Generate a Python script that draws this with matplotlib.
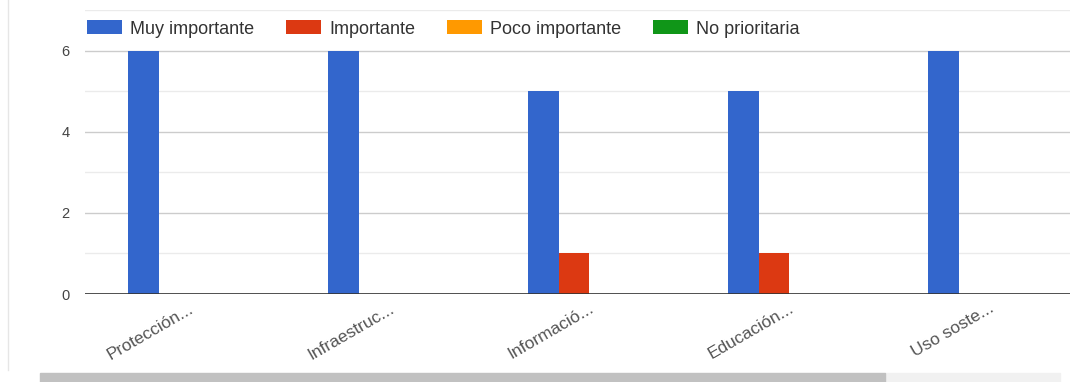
import numpy as np
import matplotlib
matplotlib.use("Agg")
import matplotlib.pyplot as plt
from matplotlib.patches import Rectangle

plt.rcParams['font.family'] = ['Liberation Sans', 'DejaVu Sans']

# data
categories = ['Protección...', 'Infraestruc...', 'Informació...', 'Educación...', 'Uso soste...']
series_names = ['Muy importante', 'Importante', 'Poco importante', 'No prioritaria']
muy_importante = [6, 6, 5, 5, 6]
importante = [0, 0, 1, 1, 0]
poco_importante = [0, 0, 0, 0, 0]
no_prioritaria = [0, 0, 0, 0, 0]
colors = ['#3366cc', '#dc3912', '#ff9900', '#109618']

fig = plt.figure(figsize=(10.70, 3.82), dpi=100)
ax = fig.add_axes([85 / 1070, 88 / 382, 1 - 85 / 1070, (294 - 10) / 382])

x = np.arange(len(categories))
w = 0.1525
all_series = [muy_importante, importante, poco_importante, no_prioritaria]
for i, (vals, name, c) in enumerate(zip(all_series, series_names, colors)):
    ax.bar(x + (i - 1.5) * w, vals, width=w, color=c, label=name, zorder=3)

ax.set_xlim(-0.52, 4.405)
ax.set_ylim(0, 7)
ax.set_yticks([0, 2, 4, 6])
ax.set_yticks([1, 3, 5, 7], minor=True)
ax.grid(axis='y', which='major', color='#cccccc', linewidth=1, zorder=0)
ax.grid(axis='y', which='minor', color='#ebebeb', linewidth=1, zorder=0)
ax.axhline(0, color='#333333', linewidth=1.2, zorder=4)
for s in ax.spines.values():
    s.set_visible(False)

ax.set_xticks(x)
ax.set_xticklabels(categories, rotation=30, ha='right', rotation_mode='anchor',
                   fontsize=12.5, color='#555555')
ax.tick_params(axis='x', length=0, pad=5)
ax.tick_params(axis='y', which='both', length=0, pad=11, labelsize=10.5, labelcolor='#444444')

fig.legend(loc='center left', bbox_to_anchor=(71 / 1070, 1 - 29 / 382), ncol=4,
           frameon=False, fontsize=13, handlelength=1.94, handleheight=0.78,
           handletextpad=0.45, columnspacing=1.75, labelcolor='#333333')

# frame decorations: left border and scrollbar
fig.add_artist(plt.Line2D([8 / 1070, 8 / 1070], [12 / 382, 1], color='#e6e6e6', linewidth=1))
fig.patches.append(Rectangle((885 / 1070, 0), (1060 - 885) / 1070, 9 / 382,
                             transform=fig.transFigure, color='#f1f1f1', zorder=1))
fig.patches.append(Rectangle((40 / 1070, 0), (885 - 40) / 1070, 9 / 382,
                             transform=fig.transFigure, color='#c1c1c1', zorder=2))

fig.savefig('out.png', dpi=100, facecolor='white')
